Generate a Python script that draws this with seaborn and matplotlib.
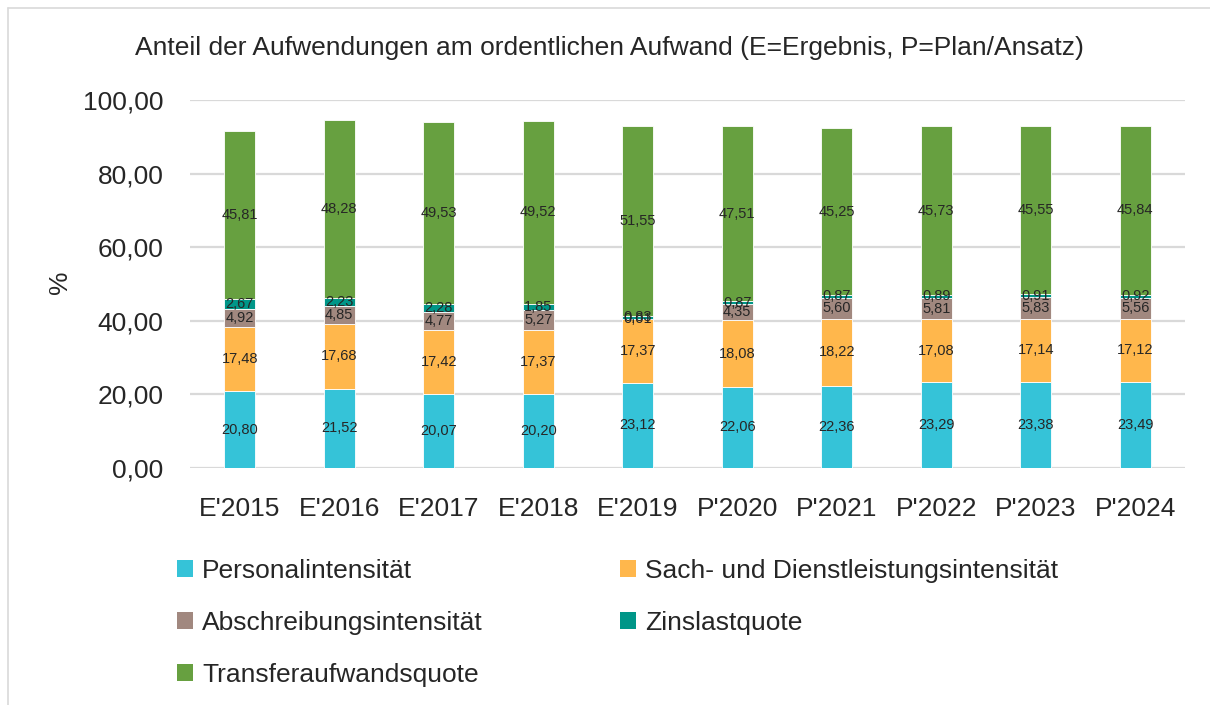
import matplotlib
matplotlib.use("Agg")
import matplotlib.pyplot as plt
from matplotlib.patches import Patch
from matplotlib.lines import Line2D
import numpy as np
import pandas as pd
import seaborn as sns

categories = ["E'2015", "E'2016", "E'2017", "E'2018", "E'2019",
              "P'2020", "P'2021", "P'2022", "P'2023", "P'2024"]
personal = [20.80, 21.52, 20.07, 20.20, 23.12, 22.06, 22.36, 23.29, 23.38, 23.49]
sach = [17.48, 17.68, 17.42, 17.37, 17.37, 18.08, 18.22, 17.08, 17.14, 17.12]
abschreibung = [4.92, 4.85, 4.77, 5.27, 0.01, 4.35, 5.60, 5.81, 5.83, 5.56]
zins = [2.67, 2.23, 2.28, 1.85, 0.83, 0.87, 0.87, 0.89, 0.91, 0.92]
transfer = [45.81, 48.28, 49.53, 49.52, 51.55, 47.51, 45.25, 45.73, 45.55, 45.84]

series_names = ["Personalintensität", "Sach- und Dienstleistungsintensität",
                "Abschreibungsintensität", "Zinslastquote", "Transferaufwandsquote"]
series_values = [personal, sach, abschreibung, zins, transfer]
colors = ["#35C3D8", "#FFB74C", "#A1887F", "#009688", "#67A040"]

title = "Anteil der Aufwendungen am ordentlichen Aufwand (E=Ergebnis, P=Plan/Ansatz)"
yticks = [0, 20, 40, 60, 80, 100]

sns.set_theme(style="white")
plt.rcParams["font.family"] = ["Liberation Sans", "DejaVu Sans"]

def de(v):
    return f"{v:.2f}".replace(".", ",")

fig = plt.figure(figsize=(12.1, 7.05), dpi=100)
ax = fig.add_axes([190 / 1210, 1 - 468 / 705, 995 / 1210, 368 / 705])

bottom = np.zeros(len(categories))
for name, vals, col in zip(series_names, series_values, colors):
    df = pd.DataFrame({"cat": categories, "val": vals})
    sns.barplot(data=df, x="cat", y="val", bottom=bottom, color=col,
                width=0.31, ax=ax, edgecolor="white", linewidth=0.6,
                saturation=1, zorder=3)
    bottom = bottom + np.array(vals)

for cont, vals in zip(ax.containers, series_values):
    ax.bar_label(cont, labels=[de(v) for v in vals], label_type="center",
                 fontsize=10.5, color="#262626")

ax.set_ylim(0, 100)
ax.set_xlim(-0.5, len(categories) - 0.5)
ax.set_yticks(yticks)
ax.set_yticklabels([de(v) for v in yticks])
ax.yaxis.grid(True, color="#D9D9D9", linewidth=1.6, zorder=0)
ax.set_axisbelow(True)
for s in ax.spines.values():
    s.set_visible(False)
ax.tick_params(axis="y", length=0, pad=19, labelsize=19, labelcolor="#262626")
ax.tick_params(axis="x", length=0, pad=21, labelsize=19, labelcolor="#262626")
ax.set_xlabel("")
ax.set_ylabel("")

fig.text(609 / 1210, 1 - 48 / 705, title, ha="center", va="center",
         fontsize=19, color="#262626")
fig.text(60 / 1210, 1 - 282 / 705, "%", rotation=90, ha="center", va="center",
         fontsize=19, color="#262626")

def handles(idx):
    return [Patch(facecolor=colors[i], edgecolor="none") for i in idx]

leg_kw = dict(loc="upper left", frameon=False, fontsize=19, handlelength=0.6,
              handleheight=0.6, handletextpad=0.35, labelspacing=1.06,
              borderpad=0, borderaxespad=0, labelcolor="#262626")
fig.legend(handles([0, 2, 4]), [series_names[i] for i in [0, 2, 4]],
           bbox_to_anchor=(177 / 1210, 1 - 559 / 705), **leg_kw)
fig.legend(handles([1, 3]), [series_names[i] for i in [1, 3]],
           bbox_to_anchor=(620 / 1210, 1 - 559 / 705), **leg_kw)

# outer chart border (light gray)
fig.add_artist(Line2D([8 / 1210, 8 / 1210], [0, 1 - 8 / 705], transform=fig.transFigure,
                      color="#D9D9D9", linewidth=1.2))
fig.add_artist(Line2D([8 / 1210, 1], [1 - 8 / 705, 1 - 8 / 705], transform=fig.transFigure,
                      color="#D9D9D9", linewidth=1.2))

fig.savefig("out.png", dpi=100, facecolor="white")
